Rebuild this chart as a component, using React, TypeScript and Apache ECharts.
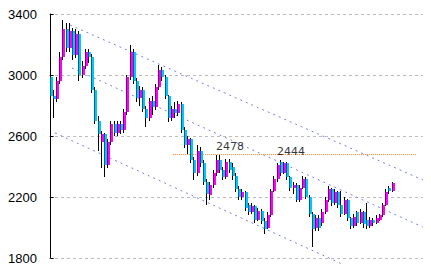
import React, { useEffect, useRef } from "react";
import * as echarts from "echarts";

// [open, close, low, high] per week
const candles: number[][] = [
  [2990, 2860, 2830, 3020], [2860, 2840, 2720, 2900], [2840, 2960, 2820, 2990], [2960, 3120, 2940, 3150],
  [3120, 3300, 3100, 3360], [3300, 3180, 3150, 3340], [3180, 3290, 3150, 3340], [3290, 3130, 3100, 3310],
  [3130, 3270, 3110, 3300], [3270, 3000, 2960, 3290], [3000, 3060, 2980, 3090], [3060, 3150, 3040, 3170],
  [3150, 3120, 3080, 3170], [3120, 2900, 2880, 3140], [2900, 2700, 2680, 2920], [2700, 2610, 2500, 2730],
  [2560, 2610, 2390, 2630], [2610, 2410, 2330, 2620], [2410, 2560, 2390, 2580], [2560, 2680, 2540, 2700],
  [2680, 2620, 2600, 2700], [2620, 2680, 2600, 2700], [2680, 2640, 2610, 2700], [2640, 2760, 2620, 2780],
  [2760, 2990, 2740, 3000], [2990, 3150, 2970, 3200], [3150, 2960, 2940, 3170], [2960, 2850, 2820, 2980],
  [2850, 2900, 2800, 2930], [2900, 2780, 2760, 2920], [2780, 2720, 2660, 2800], [2720, 2830, 2700, 2850],
  [2830, 2790, 2740, 2860], [2790, 2920, 2770, 2940], [2920, 3030, 2900, 3065], [3030, 2990, 2960, 3050],
  [2990, 2860, 2840, 3000], [2860, 2720, 2690, 2870], [2720, 2780, 2700, 2800], [2780, 2750, 2720, 2820],
  [2750, 2810, 2730, 2830], [2810, 2640, 2620, 2820], [2640, 2540, 2520, 2660], [2540, 2580, 2480, 2600],
  [2580, 2440, 2420, 2590], [2440, 2360, 2310, 2460], [2360, 2500, 2340, 2540], [2500, 2420, 2400, 2530],
  [2420, 2300, 2280, 2440], [2300, 2220, 2150, 2320], [2210, 2280, 2180, 2300], [2280, 2360, 2260, 2380],
  [2360, 2440, 2340, 2478], [2440, 2380, 2360, 2478], [2380, 2330, 2310, 2400], [2330, 2430, 2320, 2450],
  [2430, 2380, 2360, 2450], [2400, 2340, 2310, 2420], [2340, 2250, 2230, 2360], [2250, 2200, 2180, 2270],
  [2200, 2230, 2180, 2250], [2230, 2130, 2110, 2240], [2150, 2100, 2080, 2160], [2100, 2140, 2090, 2160],
  [2140, 2050, 2030, 2150], [2050, 2110, 2040, 2130], [2110, 2040, 2020, 2120], [2040, 1990, 1960, 2060],
  [2000, 2080, 1990, 2100], [2080, 2240, 2070, 2250], [2240, 2320, 2230, 2340], [2320, 2410, 2300, 2420],
  [2430, 2360, 2340, 2444], [2360, 2420, 2350, 2430], [2420, 2330, 2310, 2430], [2330, 2260, 2240, 2340],
  [2260, 2280, 2220, 2300], [2280, 2180, 2170, 2290], [2180, 2260, 2170, 2280], [2260, 2320, 2250, 2340],
  [2320, 2200, 2190, 2330], [2200, 2090, 2070, 2210], [2090, 1990, 1870, 2100], [2000, 2060, 1980, 2080],
  [2060, 2000, 1980, 2080], [2030, 2100, 2010, 2120], [2100, 2180, 2090, 2200], [2180, 2250, 2170, 2270],
  [2250, 2160, 2140, 2260], [2160, 2230, 2150, 2250], [2230, 2150, 2130, 2240], [2150, 2090, 2070, 2240],
  [2090, 2180, 2080, 2200], [2180, 2060, 2040, 2190], [2060, 2010, 1990, 2070], [2010, 2070, 2000, 2090],
  [2100, 2030, 2010, 2110], [2030, 2100, 2020, 2120], [2100, 2020, 2000, 2110], [2050, 2010, 1990, 2160],
  [2010, 2050, 2000, 2070], [2050, 2030, 2010, 2060], [2030, 2060, 2020, 2080], [2050, 2080, 2040, 2090],
  [2080, 2150, 2070, 2160], [2150, 2230, 2140, 2250], [2260, 2240, 2220, 2270], [2240, 2290, 2230, 2300],
];

const yTicks = [1800, 2200, 2600, 3000, 3400];

// trend channel lines [index, value]
const upperTrend = [[6.06, 3328], [118.6, 2292]];
const middleTrend = [[6.69, 3046], [116.4, 2003]];
const lowerTrend = [[1.375, 2620], [96.7, 1708]];
const resistance = [[38.25, 2478], [114.5, 2478]];

const peakLabels = [
  { idx: 56.1, value: 2478, text: "2478" },
  { idx: 75.2, value: 2444, text: "2444" },
];

const UP = "#ff00ff";
const DOWN = "#00c8ff";

export default function App() {
  const ref = useRef<HTMLDivElement>(null);
  useEffect(() => {
    if (!ref.current) return;
    const chart = echarts.init(ref.current, undefined, { renderer: "svg" });
    const data = candles.map((c, i) => [i, c[0], c[1], c[2], c[3]]);
    const trendStyle = { color: "#7a7aff", width: 1, type: [2, 4] as any };
    chart.setOption({
      animation: false,
      grid: { left: 49, right: 8, top: 14, bottom: 14, containLabel: false },
      xAxis: { type: "value", min: -0.5, max: 116.5, show: false },
      yAxis: {
        type: "value",
        min: yTicks[0],
        max: yTicks[yTicks.length - 1],
        interval: 400,
        axisLine: { show: true, lineStyle: { color: "#000", width: 1 } },
        axisTick: { show: true, inside: true, length: 3, lineStyle: { color: "#000" } },
        axisLabel: {
          color: "#000",
          fontSize: 13,
          margin: 12,
          formatter: (v: number) => String(v),
          fontFamily: "'Liberation Sans Narrow', 'Liberation Sans', sans-serif",
        },
        splitLine: { show: true, lineStyle: { color: "#bbbbbb", type: [3, 3], width: 1 } },
      },
      series: [
        {
          type: "line", data: upperTrend, showSymbol: false, clip: false,
          lineStyle: trendStyle, silent: true, z: 1,
        },
        {
          type: "line", data: middleTrend, showSymbol: false, clip: false,
          lineStyle: trendStyle, silent: true, z: 1,
        },
        {
          type: "line", data: lowerTrend, showSymbol: false, clip: false,
          lineStyle: trendStyle, silent: true, z: 1,
        },
        {
          type: "line", data: resistance, showSymbol: false, clip: false,
          lineStyle: { color: "#f08020", width: 1, type: [1, 1] as any }, silent: true, z: 1,
        },
        {
          type: "custom",
          data,
          clip: false,
          z: 3,
          encode: { x: 0, y: [1, 2, 3, 4] },
          renderItem: (params: any, api: any) => {
            const i = api.value(0);
            const o = api.value(1);
            const c = api.value(2);
            const l = api.value(3);
            const h = api.value(4);
            const pO = api.coord([i, o]);
            const pC = api.coord([i, c]);
            const pL = api.coord([i, l]);
            const pH = api.coord([i, h]);
            const x = Math.round(pO[0]);
            const top = Math.round(Math.min(pO[1], pC[1]));
            const bot = Math.round(Math.max(pO[1], pC[1]));
            const color = c >= o ? UP : DOWN;
            return {
              type: "group",
              children: [
                {
                  type: "line",
                  shape: { x1: x - 0.5, y1: Math.round(pH[1]), x2: x - 0.5, y2: Math.round(pL[1]) },
                  style: { stroke: "#000", lineWidth: 1 },
                },
                {
                  type: "rect",
                  shape: { x: x - 0.5, y: top, width: 2.5, height: Math.max(1, bot - top) },
                  style: { fill: color },
                },
              ],
            };
          },
        },
        {
          type: "scatter",
          data: peakLabels.map((p) => ({ value: [p.idx, p.value], name: p.text })),
          symbolSize: 0,
          z: 4,
          label: {
            show: true,
            position: "top",
            distance: 3,
            formatter: (p: any) => p.name,
            color: "#000",
            fontSize: 11,
            fontFamily: "'DejaVu Sans', sans-serif",
          },
        },
      ],
    });
    return () => chart.dispose();
  }, []);
  return <div ref={ref} style={{ width: 431, height: 272, margin: -8, background: "#fff" }} />;
}
